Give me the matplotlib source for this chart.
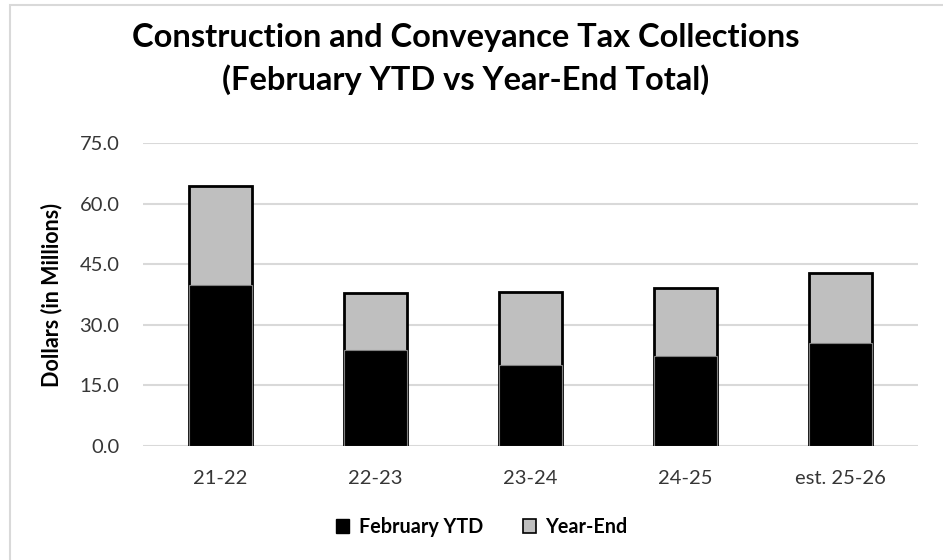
import matplotlib
matplotlib.use("Agg")
import matplotlib.pyplot as plt
from matplotlib.patches import Patch, Rectangle

categories = ["21-22", "22-23", "23-24", "24-25", "est. 25-26"]
february_ytd = [40.0, 23.9, 20.0, 22.4, 25.4]
year_end = [64.4, 37.8, 38.1, 39.1, 42.9]
y_ticks = [0, 15, 30, 45, 60, 75]

plt.rcParams["font.family"] = ["Lato", "DejaVu Sans"]

W, H = 943, 560
fig = plt.figure(figsize=(W / 100, H / 100), dpi=100)
fig.patch.set_facecolor("white")

# outer chart frame (left and top edges visible)
fig.add_artist(Rectangle((10 / W, -0.05), 1.1, (H - 5) / H + 0.05,
                         transform=fig.transFigure, fill=False,
                         edgecolor="#d9d9d9", linewidth=1.5, clip_on=False))

ax = fig.add_axes([143 / W, (H - 446) / H, (918 - 143) / W, (446 - 143.3) / H])

x = list(range(len(categories)))
width = 0.41
ax.bar(x, year_end, width=width, color="#bfbfbf", edgecolor="black",
       linewidth=2.0, zorder=2, label="Year-End")
ax.bar(x, february_ytd, width=width, color="black", edgecolor="#808080",
       linewidth=0.8, zorder=3, label="February YTD")

ax.set_xlim(-0.5, len(categories) - 0.5)
ax.set_ylim(0, 75)
ax.set_yticks(y_ticks)
ax.set_yticklabels([f"{v:.1f}" for v in y_ticks], fontsize=14.5, color="#363636")
ax.set_xticks(x)
ax.set_xticklabels(categories, fontsize=14.5, color="#363636")
ax.tick_params(axis="y", length=0, pad=17)
ax.tick_params(axis="x", length=0, pad=17)

ax.grid(axis="y", color="#d9d9d9", linewidth=1.5, zorder=0)
ax.set_axisbelow(True)
for s in ax.spines.values():
    s.set_visible(False)

ax.set_ylabel("Dollars (in Millions)", fontsize=15.5, fontweight="bold",
              color="black", labelpad=12)

fig.text(466 / W, 1 - 59 / H,
         "Construction and Conveyance Tax Collections\n(February YTD vs Year-End Total)",
         ha="center", va="center", fontsize=23.5, fontweight="bold",
         linespacing=1.45, color="black")

handles = [Patch(facecolor="black", edgecolor="black", label="February YTD"),
           Patch(facecolor="#bfbfbf", edgecolor="black", linewidth=1.2, label="Year-End")]
fig.legend(handles=handles, loc="center", bbox_to_anchor=(482 / W, 1 - 527 / H),
           ncol=2, frameon=False, prop={"weight": "bold", "size": 14.2},
           handlelength=0.65, handleheight=0.65, columnspacing=2.0, handletextpad=0.5)

fig.savefig("out.png", dpi=100)
